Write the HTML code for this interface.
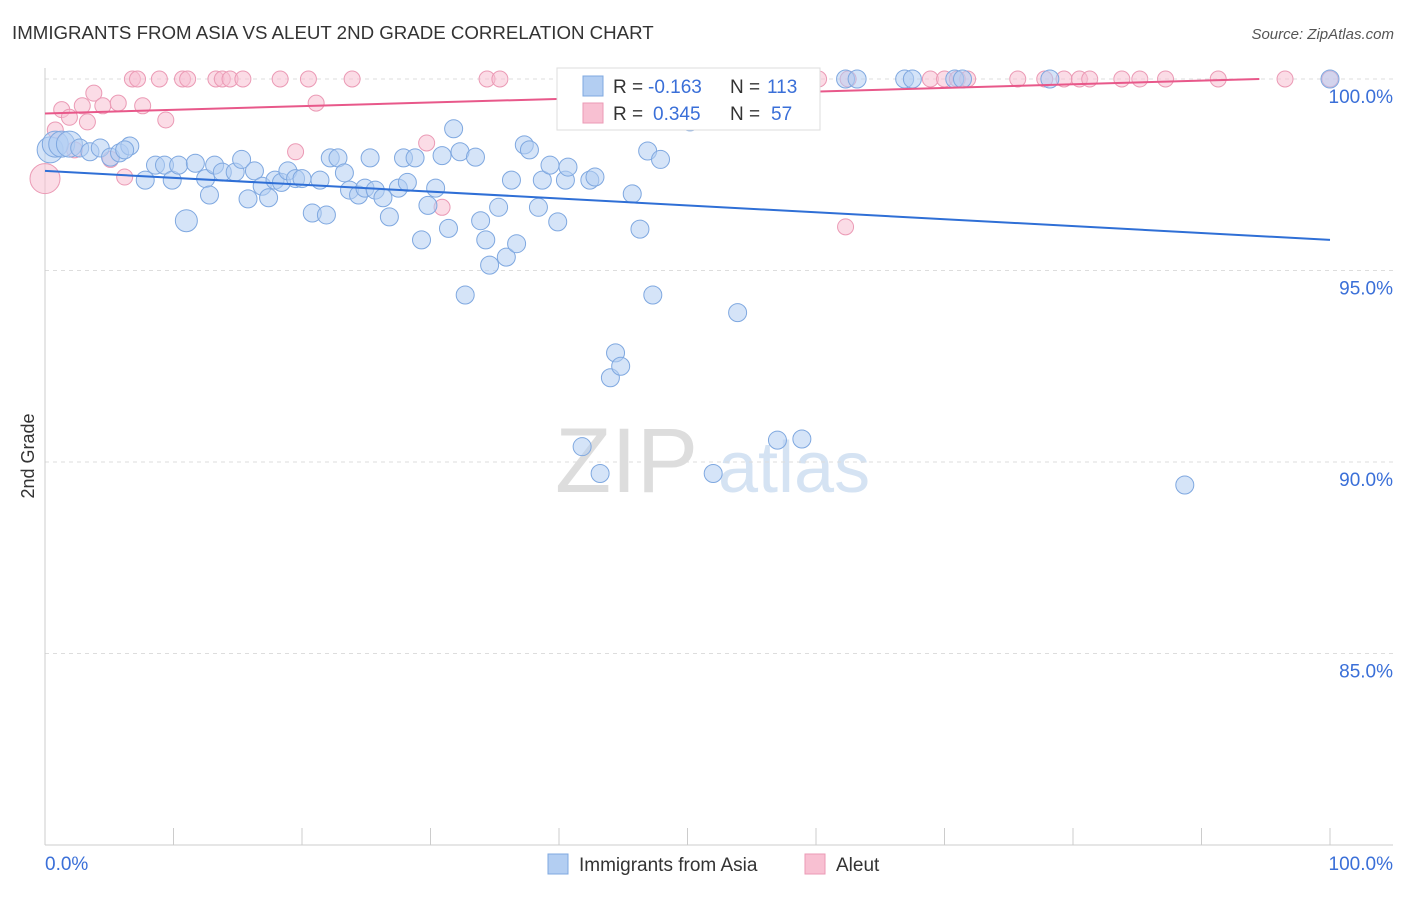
<!DOCTYPE html>
<html><head><meta charset="utf-8">
<style>
body{margin:0;background:#fff;font-family:"Liberation Sans",sans-serif;}
svg text{font-family:"Liberation Sans",sans-serif;}
</style></head>
<body>
<svg id="chart" width="1406" height="892" xmlns="http://www.w3.org/2000/svg">
<text x="12" y="39" font-size="18.7" fill="#333">IMMIGRANTS FROM ASIA VS ALEUT 2ND GRADE CORRELATION CHART</text>
<text x="1394" y="39" font-size="15" fill="#555" font-style="italic" text-anchor="end">Source: ZipAtlas.com</text>
<g>
<text x="555" y="492" font-size="92" fill="#ddd" font-family="Liberation Serif">ZIP</text>
<text x="718" y="492" font-size="72" fill="#d5e3f3">atlas</text>
</g>
<g id="grid"></g><g id="axes"></g><g id="pts"></g><g id="trends"></g>
<g>
<rect x="557" y="68" width="263" height="62" fill="#fff" stroke="#ddd"/>
<rect x="583" y="76" width="20" height="20" fill="#b3cef2" stroke="#7fa8e0"/>
<rect x="583" y="103" width="20" height="20" fill="#f8c0d2" stroke="#eb9ab5"/>
<text x="613" y="93" font-size="19" fill="#333">R =</text>
<text x="648" y="93" font-size="19" fill="#3a6fd8">-0.163</text>
<text x="730" y="93" font-size="19" fill="#333">N =</text>
<text x="767" y="93" font-size="19" fill="#3a6fd8">113</text>
<text x="613" y="120" font-size="19" fill="#333">R =</text>
<text x="653" y="120" font-size="19" fill="#3a6fd8">0.345</text>
<text x="730" y="120" font-size="19" fill="#333">N =</text>
<text x="771" y="120" font-size="19" fill="#3a6fd8">57</text>
</g>
<g>
<rect x="548" y="854" width="20" height="20" fill="#b3cef2" stroke="#7fa8e0"/>
<text x="579" y="871" font-size="19" fill="#333">Immigrants from Asia</text>
<rect x="805" y="854" width="20" height="20" fill="#f8c0d2" stroke="#eb9ab5"/>
<text x="836" y="871" font-size="19" fill="#333">Aleut</text>
</g>
<text x="34" y="456" font-size="18" fill="#333" text-anchor="middle" transform="rotate(-90 34 456)">2nd Grade</text>
</svg>
<script>
const yTicks=[100,95,90,85];
const yTickLabels=["100.0%","95.0%","90.0%","85.0%"];
const xTickLabels=["0.0%","100.0%"];
const blueX=[0.4,0.8,1.3,1.9,2.7,3.5,4.3,5.1,5.8,6.6,6.2,7.8,8.6,9.3,9.9,10.4,11.0,11.7,12.5,12.8,13.2,13.8,14.8,15.3,15.8,16.3,16.9,17.4,17.9,18.4,18.9,19.5,20.0,20.8,21.4,21.9,22.2,22.8,23.3,23.7,24.4,24.9,25.3,25.7,26.3,26.8,27.5,27.9,28.2,28.8,29.3,29.8,30.4,30.9,31.4,31.8,32.3,32.7,33.5,33.9,34.3,34.6,35.3,35.9,36.3,36.7,37.3,37.7,38.4,38.7,39.3,39.9,40.5,40.7,41.8,42.4,42.8,43.2,44.4,44.0,44.8,45.7,46.3,46.9,47.3,47.9,50.2,52.0,52.5,53.9,57.0,58.9,62.3,63.2,66.9,67.5,70.8,71.4,78.2,88.7,100];
const blueY=[98.15,98.3,98.3,98.3,98.2,98.1,98.2,97.96,98.07,98.25,98.15,97.36,97.75,97.75,97.36,97.75,96.3,97.8,97.4,96.97,97.75,97.57,97.57,97.9,96.87,97.6,97.2,96.9,97.36,97.3,97.6,97.4,97.4,96.5,97.36,96.45,97.94,97.94,97.55,97.1,96.97,97.15,97.94,97.1,96.9,96.4,97.15,97.94,97.3,97.94,95.8,96.7,97.15,98.0,96.1,98.7,98.1,94.36,97.96,96.3,95.8,95.14,96.65,95.35,97.36,95.7,98.28,98.15,96.65,97.36,97.75,96.27,97.36,97.7,90.4,97.36,97.44,89.7,92.85,92.2,92.5,97.0,96.08,98.12,94.36,97.9,98.88,89.7,100,93.9,90.57,90.6,100,100,100,100,100,100,100,89.4,100];
const pinkX=[0,0.8,1.3,1.9,2.3,2.9,3.3,3.8,4.5,5.1,5.7,6.2,6.8,7.2,7.6,8.9,9.4,10.7,11.1,13.3,13.8,14.4,15.4,18.3,19.5,20.5,21.1,23.9,29.7,30.9,34.4,35.4,47.1,47.9,52.7,55.6,60.2,62.3,62.5,68.9,70.0,71.0,71.8,75.7,77.8,79.3,80.5,81.3,83.8,85.2,87.2,91.3,96.5,100];
const pinkY=[97.4,98.67,99.2,99.0,98.15,99.3,98.88,99.63,99.3,97.9,99.37,97.44,100,100,99.3,100,98.93,100,100,100,100,100,100,100,98.1,100,99.37,100,98.33,96.65,100,100,100,100,99.5,100,100,96.14,100,100,100,100,100,100,100,100,100,100,100,100,100,100,100,100];
const blueTrend=[97.6,95.8];
const pinkTrend=[99.1,100];
const NS="http://www.w3.org/2000/svg";
const X=v=>45+v*12.85, Y=v=>79+(100-v)*38.3;
function mk(t,a,p){const e=document.createElementNS(NS,t);for(const k in a)e.setAttribute(k,a[k]);p.appendChild(e);return e;}
const grid=document.getElementById('grid'),axes=document.getElementById('axes');
yTicks.forEach((t,i)=>{
 const l=mk('line',{x1:45,x2:1393,y1:Y(t),y2:Y(t),stroke:'#ddd','stroke-dasharray':'4,4'},grid);
 
 
 const tx=mk('text',{x:1393,y:Y(t)+24,'font-size':19,fill:'#3a6fd8','text-anchor':'end'},axes);
 tx.textContent=yTickLabels[i];
 
 
});
const ya=mk('line',{x1:45,x2:45,y1:68,y2:845,stroke:'#ccc'},axes);


const xa=mk('line',{x1:45,x2:1393,y1:845,y2:845,stroke:'#ccc'},axes);


for(let i=0;i<=10;i++){const t=mk('line',{x1:X(i*10),x2:X(i*10),y1:828,y2:845,stroke:'#ccc'},axes);
 
 }
[[0,'start'],[100,'end']].forEach((d,i)=>{const t=mk('text',{x:i?1393:45,y:870,'font-size':19,fill:'#3a6fd8','text-anchor':d[1]},axes);t.textContent=xTickLabels[i];
 
 });
const pts=document.getElementById('pts');
pinkX.forEach((x,i)=>{const c=mk('circle',{cx:X(x),cy:Y(pinkY[i]),r:i==0?15:8,fill:'#f8c0d2','fill-opacity':0.55,stroke:'#eb9ab5'},pts);
 
 });
blueX.forEach((x,i)=>{const r=(i<4)?13:(i==16?11:9);const c=mk('circle',{cx:X(x),cy:Y(blueY[i]),r:r,fill:'#b3cef2','fill-opacity':0.55,stroke:'#7fa8e0'},pts);
 
 });
const tr=document.getElementById('trends');
const bt=mk('line',{x1:X(0),y1:Y(blueTrend[0]),x2:X(100),y2:Y(blueTrend[1]),stroke:'#2f6fd6','stroke-width':2},tr);


const pt=mk('line',{x1:X(0),y1:Y(pinkTrend[0]),x2:X(94.5),y2:Y(pinkTrend[1]),stroke:'#e8588a','stroke-width':2},tr);


</script>
</body></html>
